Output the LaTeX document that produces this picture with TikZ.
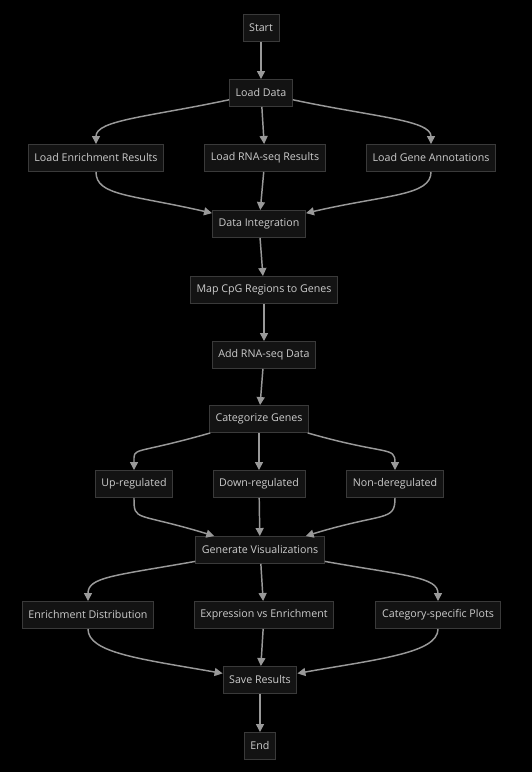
\documentclass[tikz,border=0pt]{standalone}
\usepackage{fontspec}
\setmainfont{Open Sans}
\usetikzlibrary{arrows.meta}
\definecolor{boxfill}{HTML}{131313}
\definecolor{boxline}{HTML}{3A3A3A}
\definecolor{boxtext}{HTML}{CCCCCC}
\definecolor{linkgray}{HTML}{999999}
\tikzset{x=0.75pt, y=0.75pt, % one unit is one pixel of the reference
      every node/.style={ % Sets the properties for each step box
      draw=boxline,
      fill=boxfill,
      text=boxtext,
      line width=0.7pt,
      minimum height=20.25pt,
      inner xsep=4.6pt,
      font=\fontsize{8}{10}\selectfont},
      every edge/.style={ % Sets the properties for each link
            draw=linkgray,
      -{Triangle[width=6pt,length=6pt]}, % Filled arrow heads
      line width=1.1pt},
      fanout/.style={out distance=62pt, in distance=18pt}, % straight, then bends down
      fanin/.style={out distance=18pt, in distance=62pt}} % bends, then straight
\begin{document}
\begin{tikzpicture}
      \fill[black] (0,0) rectangle (532,772);
      \useasboundingbox (0,0) rectangle (532,772);
      \node (start) at (261,744) {Start};
      \node (load) at (261,679) {Load Data};
      \node (lenr) at (96,614) {Load Enrichment Results};
      \node (lrna) at (265,614) {Load RNA-seq Results};
      \node (lgene) at (431,614) {Load Gene Annotations};
      \node (integ) at (259,548) {Data Integration};
      \node (map) at (264,482) {Map CpG Regions to Genes};
      \node (addrna) at (264,417) {Add RNA-seq Data};
      \node (cat) at (259,353) {Categorize Genes};
      \node (up) at (134,288) {Up-regulated};
      \node (down) at (259,288) {Down-regulated};
      \node (non) at (395,288) {Non-deregulated};
      \node (gen) at (260,222) {Generate Visualizations};
      \node (edist) at (88,157) {Enrichment Distribution};
      \node (expr) at (264,157) {Expression vs Enrichment};
      \node (cplot) at (438,157) {Category-specific Plots};
      \node (save) at (260,92) {Save Results};
      \node (end) at (260,26) {End};
      % loading
      \draw (start) edge (load);
      \draw (load) edge[out=192, in=90, fanout] (lenr);
      \draw (load) edge (lrna);
      \draw (load) edge[out=-12, in=90, fanout] (lgene);
      \draw (lenr) edge[out=-90, in=167, fanin] (integ);
      \draw (lrna) edge (integ);
      \draw (lgene) edge[out=-90, in=13, fanin] (integ);
      % processing
      \draw (integ) edge (map);
      \draw (map) edge (addrna);
      \draw (addrna) edge (cat);
      \draw (cat) edge[out=196, in=90, fanout] (up);
      \draw (cat) edge (down);
      \draw (cat) edge[out=-16, in=90, fanout] (non);
      \draw (up) edge[out=-90, in=163, fanin] (gen);
      \draw (down) edge (gen);
      \draw (non) edge[out=-90, in=17, fanin] (gen);
      % plots
      \draw (gen) edge[out=190, in=90, fanout] (edist);
      \draw (gen) edge (expr);
      \draw (gen) edge[out=-10, in=90, fanout] (cplot);
      \draw (edist) edge[out=-90, in=170, fanin] (save);
      \draw (expr) edge (save);
      \draw (cplot) edge[out=-90, in=10, fanin] (save);
      \draw (save) edge (end);
\end{tikzpicture}
\end{document}
